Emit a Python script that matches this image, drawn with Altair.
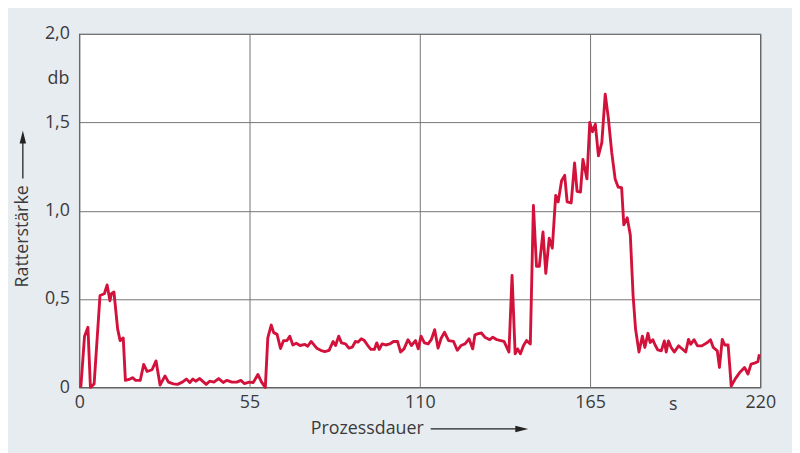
import altair as alt
import pandas as pd

# ---- data ----
t_a = [0.5, 1.7, 2.8, 3.6, 4.8, 6.7, 8.1, 9.0, 9.9, 10.4, 11.2, 12.4, 13.2, 14.2, 14.9,
       16.1, 17.2, 18.2, 19.7, 20.8, 21.9, 23.5, 24.8, 26.1, 27.7, 28.8, 30.4, 31.7, 33.3]
v_a = [0.0, 0.29, 0.34, 0.0, 0.02, 0.52, 0.53, 0.58, 0.49, 0.53, 0.54, 0.33, 0.265, 0.28, 0.04,
       0.045, 0.055, 0.04, 0.04, 0.13, 0.09, 0.10, 0.15, 0.013, 0.065, 0.03, 0.02, 0.017, 0.03]

t_b = [34.6, 35.7, 36.7, 37.6, 38.9, 41.0, 42.1, 43.5, 45.0, 46.5, 47.7, 49.3, 50.9, 52.2, 53.3,
       54.9, 56.2, 57.7, 58.9, 60.1]
v_b = [0.047, 0.028, 0.047, 0.035, 0.05, 0.017, 0.035, 0.03, 0.05, 0.028, 0.04, 0.03, 0.03, 0.04, 0.022,
       0.03, 0.028, 0.073, 0.03, 0.0]

t_c = [60.9, 62.0, 62.8, 63.9, 65.0, 66.0, 67.1, 68.0, 69.0, 70.1,
       71.3, 72.9, 73.8, 74.9, 76.7, 78.0, 79.3, 80.7, 82.0, 82.8,
       83.8, 84.7, 86.0, 87.1, 88.2, 89.2, 90.0, 91.1, 92.1, 93.2,
       94.2, 95.3, 96.1, 96.9, 97.8, 99.0, 100.3, 101.5, 102.8, 103.8,
       104.9, 106.2, 107.3, 108.6, 109.5, 110.4, 111.5, 112.7, 113.7, 114.8,
       115.9, 116.9, 118.0, 119.3, 120.9, 122.1, 123.3, 124.6, 125.9, 127.1,
       127.8, 128.9, 129.9, 131.0, 132.6, 133.6, 134.9, 136.1, 137.2, 138.8]
v_c = [0.28, 0.353, 0.31, 0.30, 0.22, 0.265, 0.265, 0.29, 0.24, 0.25,
       0.237, 0.243, 0.233, 0.26, 0.222, 0.21, 0.203, 0.21, 0.26, 0.237,
       0.29, 0.252, 0.246, 0.222, 0.228, 0.26, 0.256, 0.275, 0.265, 0.237,
       0.215, 0.215, 0.252, 0.215, 0.246, 0.24, 0.246, 0.26, 0.26, 0.20,
       0.218, 0.27, 0.237, 0.265, 0.218, 0.29, 0.252, 0.246, 0.27, 0.327,
       0.222, 0.278, 0.312, 0.265, 0.26, 0.21, 0.237, 0.246, 0.275, 0.218,
       0.297, 0.304, 0.308, 0.284, 0.27, 0.284, 0.27, 0.265, 0.26, 0.20]

t_d = [139.8, 140.8, 141.6, 142.5, 143.5, 144.5, 145.7, 146.7, 147.7, 148.6,
       149.8, 150.7, 151.8, 152.8, 153.9, 154.7, 155.8, 156.8, 157.6, 158.9,
       160.0, 160.8, 161.9, 162.7, 164.0, 164.9, 165.8, 166.7, 167.7, 168.8,
       169.9, 170.9, 172.0, 173.1, 174.1, 175.2, 175.9, 177.0, 178.0, 178.9,
       179.7, 180.8, 181.9]
v_d = [0.633, 0.19, 0.218, 0.19, 0.237, 0.265, 0.246, 1.03, 0.685, 0.685,
       0.88, 0.645, 0.844, 0.788, 1.087, 1.05, 1.17, 1.2, 1.05, 1.044,
       1.27, 1.11, 1.105, 1.29, 1.18, 1.50, 1.447, 1.49, 1.31, 1.385,
       1.66, 1.525, 1.33, 1.18, 1.133, 1.13, 0.92, 0.96, 0.863, 0.52,
       0.33, 0.20, 0.29]

t_e = [182.7, 183.7, 184.4, 185.3, 186.0, 186.9, 188.0, 189.0, 189.6, 190.3,
       191.2, 192.2, 193.6, 194.9, 195.9, 196.8, 197.5, 198.6, 199.7, 201.1,
       202.9, 203.9, 204.8, 206.1, 206.8, 207.7, 208.5, 209.6, 210.6, 211.9,
       213.2, 214.9, 216.0, 217.0, 218.1, 219.2, 219.7]
v_e = [0.226, 0.306, 0.254, 0.27, 0.24, 0.212, 0.207, 0.263, 0.20, 0.263,
       0.226, 0.20, 0.235, 0.216, 0.20, 0.272, 0.244, 0.27, 0.235, 0.235,
       0.254, 0.27, 0.226, 0.207, 0.113, 0.272, 0.24, 0.24, 0.007, 0.048,
       0.081, 0.113, 0.076, 0.132, 0.137, 0.145, 0.188]

x_ticks = [0, 55, 110, 165, 220]
y_ticks = [0, 0.5, 1.0, 1.5, 2.0]

times = t_a + t_b + t_c + t_d + t_e
values = v_a + v_b + v_c + v_d + v_e
assert len(times) == len(values)

df = pd.DataFrame({"t": times, "v": values})

FONT = "Open Sans"
FS = 18
LABEL_COLOR = "#3a3a3a"
W, H = 688, 357

x_enc = alt.X("t:Q", scale=alt.Scale(domain=[0, 220], nice=False, zero=False),
              axis=alt.Axis(values=x_ticks, title=None, grid=True, ticks=False, domain=False,
                            labelPadding=6, labelFontSize=FS, labelFont=FONT,
                            labelColor=LABEL_COLOR, gridColor="#747474", gridWidth=1,
                            labelFlush=False))
y_enc = alt.Y("v:Q", scale=alt.Scale(domain=[0, 2], nice=False),
              axis=alt.Axis(values=y_ticks, title=None, grid=True, ticks=False, domain=False,
                            labelPadding=10, labelFontSize=FS, labelFont=FONT,
                            labelColor=LABEL_COLOR, gridColor="#747474", gridWidth=1,
                            labelFlush=False,
                            labelExpr="datum.value == 0 ? '0' : replace(format(datum.value, '.1f'), '.', ',')"))

line = alt.Chart(df).mark_line(color="#d3123c", strokeWidth=2.9, strokeJoin="round").encode(
    x=x_enc, y=y_enc)

one = pd.DataFrame({"k": [0]})

unit_s = alt.Chart(one).mark_text(text="s", font=FONT, fontSize=FS, color=LABEL_COLOR,
                                  align="center", baseline="middle").encode(
    x=alt.value(600), y=alt.value(375))
unit_db = alt.Chart(one).mark_text(text="db", font=FONT, fontSize=FS, color=LABEL_COLOR,
                                   align="right", baseline="middle").encode(
    x=alt.value(-10), y=alt.value(45))

x_title = alt.Chart(one).mark_text(text="Prozessdauer", font=FONT, fontSize=FS, color=LABEL_COLOR,
                                   align="right", baseline="middle").encode(
    x=alt.value(348), y=alt.value(399))
x_arrow = alt.Chart(one).mark_rule(color="#222", strokeWidth=1.3).encode(
    x=alt.value(355), x2=alt.value(445), y=alt.value(399))
x_head = alt.Chart(one).mark_point(shape="M-1,-0.5L1,0L-1,0.5Z", filled=True, color="#222",
                                   size=169, opacity=1).encode(
    x=alt.value(447), y=alt.value(399))

y_title = alt.Chart(one).mark_text(text="Ratterstärke", font=FONT, fontSize=FS, color=LABEL_COLOR,
                                   angle=270, align="left", baseline="middle").encode(
    x=alt.value(-57), y=alt.value(256))
y_arrow = alt.Chart(one).mark_rule(color="#222", strokeWidth=1.3).encode(
    x=alt.value(-57), y=alt.value(146), y2=alt.value(105))
y_head = alt.Chart(one).mark_point(shape="M-0.5,1L0,-1L0.5,1Z", filled=True, color="#222",
                                   size=169, opacity=1).encode(
    x=alt.value(-57), y=alt.value(104))

chart = alt.layer(line, unit_s, unit_db, x_title, x_arrow, x_head, y_title, y_arrow, y_head).properties(
    width=W, height=H,
    autosize=alt.AutoSizeParams(type="none"),
    padding={"left": 72, "top": 24, "right": 32, "bottom": 64},
    background="#e7ecf1",
).configure_view(
    fill="white", stroke="#4a4a4a", strokeWidth=1.2
)

chart.save("out.html", embed_options={"renderer": "svg", "actions": False})
